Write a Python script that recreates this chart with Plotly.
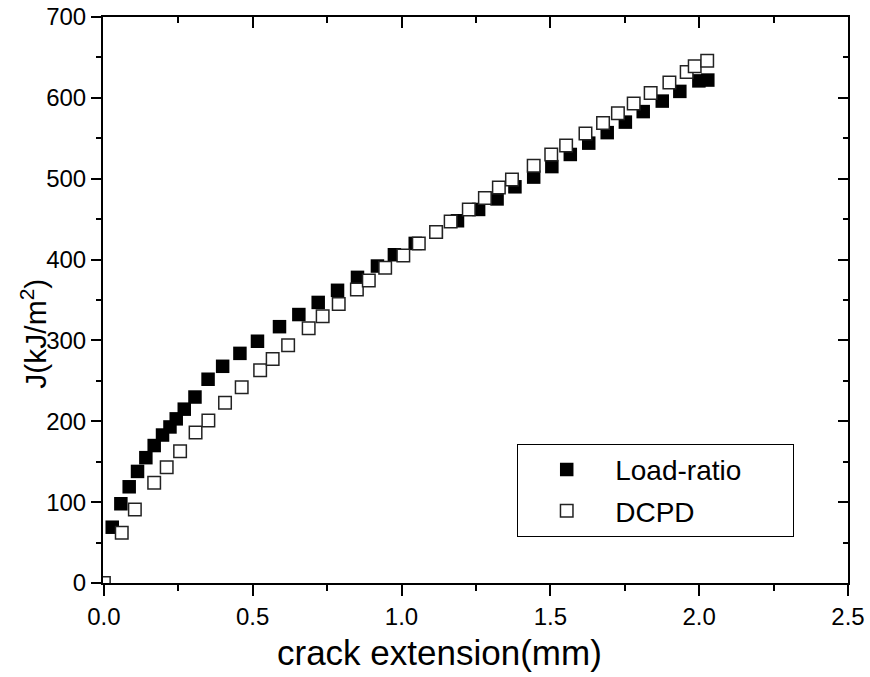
import plotly.graph_objects as go

# crack extension (mm) / J (kJ/m^2)
load_ratio_da = [0.028, 0.057, 0.085, 0.113, 0.141, 0.169, 0.197, 0.222, 0.243, 0.270,
                 0.306, 0.350, 0.399, 0.457, 0.516, 0.590, 0.655, 0.720, 0.785, 0.852,
                 0.919, 0.976, 1.046, 1.117, 1.188, 1.259, 1.321, 1.381, 1.444, 1.505,
                 1.567, 1.629, 1.691, 1.752, 1.812, 1.876, 1.935, 1.999, 2.029]
load_ratio_j = [69, 98, 119, 138, 155, 170, 183, 193, 203, 215,
                230, 252, 268, 284, 299, 317, 332, 347, 362, 378,
                392, 406, 420, 434, 448, 462, 475, 490, 502, 515,
                530, 544, 557, 570, 583, 596, 608, 621, 622]

dcpd_da = [0.0, 0.060, 0.104, 0.169, 0.211, 0.256, 0.308, 0.351, 0.407, 0.463,
           0.525, 0.567, 0.619, 0.688, 0.735, 0.789, 0.850, 0.890, 0.945, 1.006,
           1.058, 1.116, 1.165, 1.226, 1.280, 1.327, 1.371, 1.444, 1.503, 1.553,
           1.618, 1.677, 1.727, 1.780, 1.837, 1.900, 1.958, 1.985, 2.027]
dcpd_j = [0, 62, 91, 124, 143, 163, 186, 201, 223, 242,
          263, 277, 294, 315, 330, 345, 363, 374, 390, 405,
          420, 434, 447, 462, 476, 489, 499, 516, 530, 541,
          556, 569, 581, 593, 606, 619, 632, 639, 646]

x_ticks = [0, 0.5, 1.0, 1.5, 2.0, 2.5]
x_labels = ["0.0", "0.5", "1.0", "1.5", "2.0", "2.5"]

fnt = "Liberation Sans, Arial, sans-serif"
pad = "\u00a0" * 6  # stretch the legend box a bit to the right

fig = go.Figure()
fig.add_trace(go.Scatter(x=load_ratio_da, y=load_ratio_j, mode="markers", name="Load-ratio" + pad,
                         legendgroup="a",
                         marker=dict(symbol="square", size=13.5, color="black",
                                     line=dict(color="black", width=0))))
fig.add_trace(go.Scatter(x=dcpd_da, y=dcpd_j, mode="markers", name="DCPD",
                         legendgroup="b",
                         marker=dict(symbol="square", size=12.5, color="white",
                                     line=dict(color="#222222", width=1.5))))
# empty trace so the top / right axes get drawn
fig.add_trace(go.Scatter(x=[None], y=[None], xaxis="x2", yaxis="y2", showlegend=False))

axis_common = dict(showline=True, linecolor="black", linewidth=2, showgrid=False,
                   zeroline=False, tickcolor="black", tickwidth=1.5, automargin=False,
                   ticklabeloverflow="allow",
                   tickfont=dict(family=fnt, size=24, color="black"))

fig.update_layout(
    width=870, height=677,
    margin=dict(l=103, r=22, t=17, b=94),
    plot_bgcolor="white", paper_bgcolor="white",
    font=dict(family=fnt, color="black"),
    xaxis=dict(range=[-0.003, 2.5], tickvals=x_ticks, ticktext=x_labels,
               ticks="outside", ticklen=11,
               minor=dict(dtick=0.25, tick0=0, ticks="outside", ticklen=6,
                          tickcolor="black", tickwidth=1.5),
               **axis_common),
    yaxis=dict(range=[0, 700], dtick=100, ticks="outside", ticklen=10,
               minor=dict(dtick=50, ticks="outside", ticklen=5,
                          tickcolor="black", tickwidth=1.5),
               **axis_common),
    xaxis2=dict(overlaying="x", matches="x", side="top", anchor="y2", showticklabels=False,
                ticks="inside", ticklen=11, tickvals=x_ticks,
                minor=dict(dtick=0.25, tick0=0, ticks="inside", ticklen=6,
                           tickcolor="black", tickwidth=1.5),
                **axis_common),
    yaxis2=dict(overlaying="y", matches="y", side="right", anchor="x2", showticklabels=False,
                ticks="inside", ticklen=10, dtick=100,
                minor=dict(dtick=50, ticks="inside", ticklen=5,
                           tickcolor="black", tickwidth=1.5),
                **axis_common),
    legend=dict(x=0.556, y=0.246, xanchor="left", yanchor="top",
                bordercolor="black", borderwidth=1, bgcolor="white",
                font=dict(family=fnt, size=28, color="black"),
                traceorder="grouped", tracegroupgap=2, itemwidth=87),
)

# axis titles as annotations - in the original they sit off-centre
fig.add_annotation(text="crack extension(mm)", xref="paper", yref="paper",
                   x=0.452, y=-0.122, xanchor="center", yanchor="middle", showarrow=False,
                   font=dict(family=fnt, size=35, color="black"))
fig.add_annotation(text="J(kJ/m<sup>2</sup>)", xref="paper", yref="paper", textangle=-90,
                   x=-0.093, y=0.44, xanchor="center", yanchor="middle", showarrow=False,
                   font=dict(family=fnt, size=30, color="black"))

# drop the default 8px page margin so the figure fills the window exactly
fig.write_html("out.html", config={"displayModeBar": False},
               post_script="document.body.style.margin='0';")
